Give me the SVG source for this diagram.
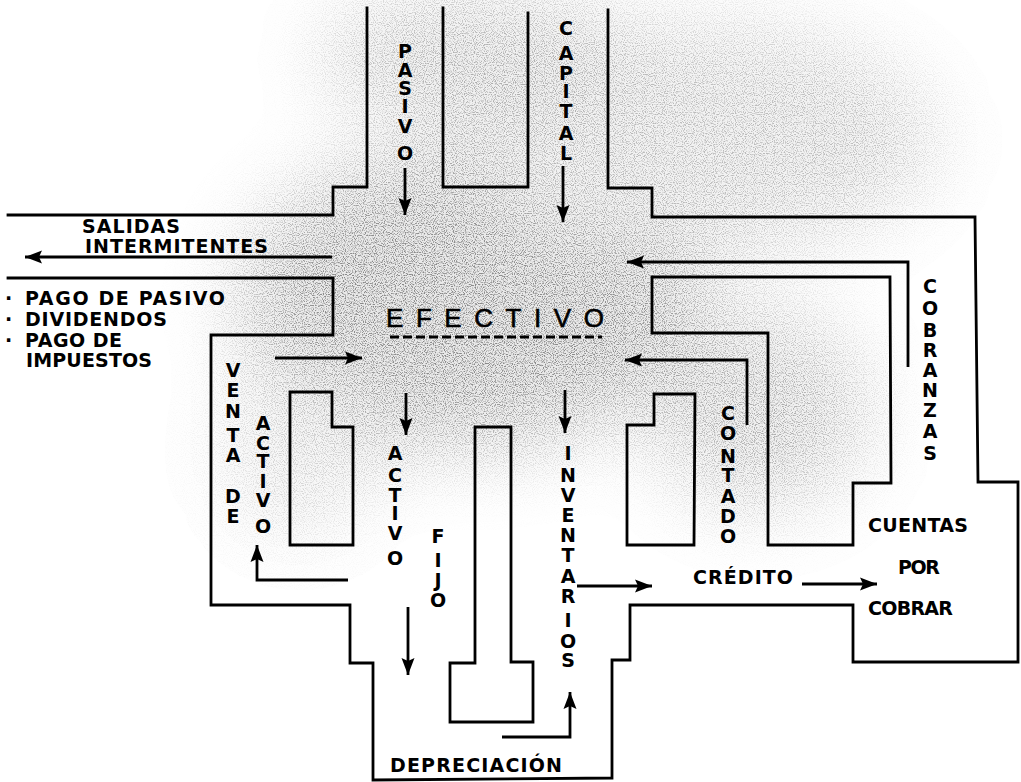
<svg xmlns="http://www.w3.org/2000/svg" width="1021" height="782" viewBox="0 0 1021 782">
<style>
.ln{fill:none;stroke:#000;stroke-width:2.8;stroke-linejoin:miter;stroke-linecap:square}
.ar{fill:none;stroke:#000;stroke-width:2.8}
.t{font-family:"DejaVu Sans","Liberation Sans",sans-serif;font-weight:bold;font-size:19px;fill:#000}
.v{font-family:"DejaVu Sans","Liberation Sans",sans-serif;font-weight:bold;font-size:19px;fill:#000;text-anchor:middle}
.ef{font-family:"Liberation Sans","DejaVu Sans",sans-serif;font-size:26px;fill:#000;stroke:#000;stroke-width:0.6}
</style>
<defs>
<marker id="ah" markerWidth="18" markerHeight="16" refX="17" refY="8" orient="auto" markerUnits="userSpaceOnUse">
<path d="M0,1.5 L17,8 L0,14.5 L3,8 Z" fill="#000"/>
</marker>
<filter id="speck" x="0" y="0" width="100%" height="100%">
<feTurbulence type="fractalNoise" baseFrequency="0.9" numOctaves="1" seed="7"/>
<feColorMatrix type="matrix" values="0 0 0 0 0  0 0 0 0 0  0 0 0 0 0  -4.5 0 0 0 2.4"/>
</filter>
<filter id="blur" x="-50%" y="-50%" width="200%" height="200%">
<feGaussianBlur stdDeviation="40"/>
</filter>
<mask id="gm" maskUnits="userSpaceOnUse" x="0" y="0" width="1021" height="782">
<rect width="1021" height="782" fill="#000"/>
<g filter="url(#blur)">
<ellipse cx="470" cy="300" rx="230" ry="150" fill="#777"/>
<ellipse cx="690" cy="140" rx="250" ry="120" fill="#444"/>
<ellipse cx="760" cy="410" rx="110" ry="100" fill="#555"/>
<ellipse cx="480" cy="60" rx="160" ry="70" fill="#555"/>
<ellipse cx="300" cy="450" rx="80" ry="90" fill="#333"/>
</g>
</mask>
</defs>
<rect width="1021" height="782" fill="#fff"/>
<g id="shading" mask="url(#gm)">
<rect width="1021" height="782" fill="#d0d0d0"/>
<rect width="1021" height="782" filter="url(#speck)"/>
</g>

<g id="channels">
<path class="ln" d="M8 215 L333 215 L333 187 L367 187 L367 8"/>
<path class="ln" d="M443 8 L443 187 L528 187 L528 13"/>
<path class="ln" d="M608 10 L608 188 L652 188 L652 217 L975 217 L978 482 L1018 482 L1018 662 L853 662 L853 605 L630 605 L630 660 L612 660 L612 778 L373 780 L373 663 L350 663 L350 605 L211 605 L211 335 L333 335 L333 278 L8 278"/>
</g>
<g id="block-venta">
<path class="ln" d="M290 392 L332 392 L332 427 L353 427 L353 545 L290 545 Z"/>
</g>
<g id="block-depreciacion">
<path class="ln" d="M475 427 L511 427 L511 662 L533 662 L533 722 L450 722 L450 663 L475 663 Z"/>
</g>
<g id="block-contado">
<path class="ln" d="M627 425 L654 425 L654 394 L695 394 L694 545 L627 545 Z"/>
</g>
<g id="block-cobranzas">
<path class="ln" d="M652 277 L890 277 L891 483 L853 483 L853 545 L768 545 L768 333 L652 333 Z"/>
</g>

<g id="connectors">
<path class="ar" d="M405 168 L405 215" marker-end="url(#ah)"/>
<path class="ar" d="M563 166 L563 222" marker-end="url(#ah)"/>
<path class="ar" d="M332 257 L25 257" marker-end="url(#ah)"/>
<path class="ar" d="M908 367 L908 262 L627 262" marker-end="url(#ah)"/>
<path class="ar" d="M747 425 L747 360 L625 360" marker-end="url(#ah)"/>
<path class="ar" d="M275 358 L362 358" marker-end="url(#ah)"/>
<path class="ar" d="M406 393 L406 435" marker-end="url(#ah)"/>
<path class="ar" d="M565 390 L565 433" marker-end="url(#ah)"/>
<path class="ar" d="M408 607 L408 675" marker-end="url(#ah)"/>
<path class="ar" d="M348 580 L257 580 L257 545" marker-end="url(#ah)"/>
<path class="ar" d="M502 737 L570 737 L570 692" marker-end="url(#ah)"/>
<path class="ar" d="M577 586 L652 586" marker-end="url(#ah)"/>
<path class="ar" d="M802 584 L877 584" marker-end="url(#ah)"/>
</g>

<g id="efectivo">
<text class="ef" x="386" y="327" textLength="218" lengthAdjust="spacing">EFECTIVO</text>
<path d="M390 337 L602 337" stroke="#000" stroke-width="3" stroke-dasharray="9 4"/>
</g>

<g id="labels">
<text class="v" x="405 405 405 405 405 405" y="58 77 95 113 133 160">PASIVO</text>
<text class="v" x="566 566 566 566 566 566 566" y="35 60 80 98 118 140 160">CAPITAL</text>
<text class="t" x="82" y="233" textLength="98" lengthAdjust="spacing">SALIDAS</text>
<text class="t" x="85" y="253" textLength="183" lengthAdjust="spacing">INTERMITENTES</text>
<text class="t" x="5" y="305">·</text>
<text class="t" x="5" y="326">·</text>
<text class="t" x="5" y="347">·</text>
<text class="t" x="25" y="305" textLength="200" lengthAdjust="spacing">PAGO DE PASIVO</text>
<text class="t" x="25" y="326" textLength="142" lengthAdjust="spacing">DIVIDENDOS</text>
<text class="t" x="25" y="347" textLength="97" lengthAdjust="spacing">PAGO DE</text>
<text class="t" x="26" y="367" textLength="126" lengthAdjust="spacing">IMPUESTOS</text>
<text class="v" x="233 233 233 233 233 233 233" y="377 397 418 442 462 503 523">VENTADE</text>
<text class="v" x="263 263 263 263 263 263" y="430 450 468 488 507 533">ACTIVO</text>
<text class="v" x="395 395 395 395 395 395" y="460 482 502 520 540 565">ACTIVO</text>
<text class="v" x="438 438 438 438" y="543 567 587 607">FIJO</text>
<text class="v" x="568 568 568 568 568 568 568 568 568 568 568" y="460 482 502 522 542 562 583 603 627 648 667">INVENTARIOS</text>
<text class="v" x="728 728 728 728 728 728 728" y="420 440 463 482 503 523 543">CONTADO</text>
<text class="v" x="930 930 930 930 930 930 930 930 930" y="293 315 337 357 377 397 417 438 460">COBRANZAS</text>
<text class="t" x="868" y="532" textLength="100" lengthAdjust="spacing">CUENTAS</text>
<text class="t" x="898" y="574" textLength="42" lengthAdjust="spacing">POR</text>
<text class="t" x="868" y="615" textLength="85" lengthAdjust="spacing">COBRAR</text>
<text class="t" x="693" y="584" textLength="100" lengthAdjust="spacing">CRÉDITO</text>
<text class="t" x="390" y="772" textLength="172" lengthAdjust="spacing">DEPRECIACIÓN</text>
</g>
</svg>
